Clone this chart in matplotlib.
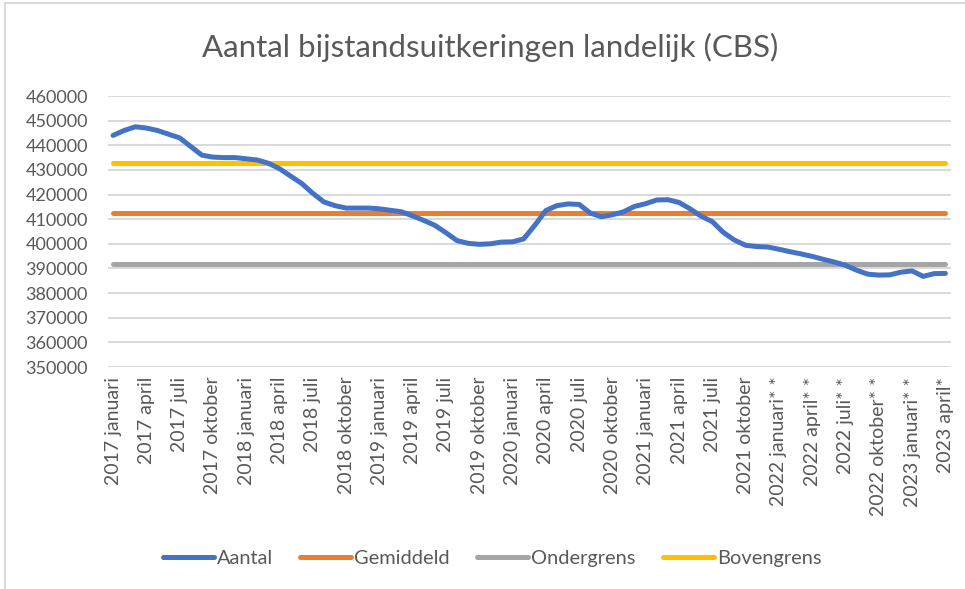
import matplotlib.pyplot as plt
from matplotlib.lines import Line2D

# maanden 2017 januari t/m 2023 april
maanden = ["januari", "februari", "maart", "april", "mei", "juni", "juli",
           "augustus", "september", "oktober", "november", "december"]
labels = []
for jaar in range(2017, 2024):
    for m in maanden:
        labels.append(f"{jaar} {m}")
labels = labels[:76]
# voorlopige cijfers
for i in range(60, 75):
    labels[i] += "* *"
labels[75] += "*"

aantal = [444000, 446000, 447500, 447000, 446000, 444500, 443000, 439500,
          436000, 435200, 435000, 435000, 434500, 434000, 432700, 430500,
          427500, 424500, 420500, 417000, 415500, 414500, 414500, 414500,
          414200, 413600, 413000, 411300, 409500, 407500, 404500, 401300,
          400200, 399800, 400000, 400700, 400800, 402000, 407500, 413500,
          415500, 416200, 416000, 412500, 411000, 411800, 413000, 415200,
          416300, 417800, 417900, 416800, 414200, 411200, 409000, 404600,
          401500, 399400, 398900, 398700, 397800, 396800, 395900, 394900,
          393700, 392600, 391300, 389300, 387700, 387300, 387400, 388500,
          389000, 386800, 387900, 388000]
gemiddeld = [412500] * 76
ondergrens = [392000] * 76
bovengrens = [433000] * 76

plt.rcParams['font.family'] = ['Lato', 'DejaVu Sans']
tekst = "#595959"

fig = plt.figure(figsize=(9.65, 5.89), dpi=100)
ax = fig.add_axes([0.1114, 0.3769, 0.874, 0.4601])

x = list(range(len(aantal)))
ax.plot(x, aantal, color="#4472C4", lw=3.6, label="Aantal", solid_capstyle="round", zorder=5)
ax.plot(x, gemiddeld, color="#ED7D31", lw=3.6, label="Gemiddeld", solid_capstyle="round", zorder=4)
ax.plot(x, ondergrens, color="#A5A5A5", lw=3.6, label="Ondergrens", solid_capstyle="round", zorder=4)
ax.plot(x, bovengrens, color="#FFC000", lw=3.6, label="Bovengrens", solid_capstyle="round", zorder=4)

ax.set_xlim(-0.5, 75.5)
ax.set_ylim(350000, 460000)
ax.set_yticks(range(350000, 460001, 10000))
ax.set_yticklabels([str(v) for v in range(350000, 460001, 10000)])
ax.set_xticks(x[::3])
ax.set_xticklabels(labels[::3], rotation=90)
ax.tick_params(axis="both", length=0, colors=tekst, labelsize=13)
ax.tick_params(axis="x", pad=7, labelsize=14)
ax.tick_params(axis="y", pad=14)
ax.grid(axis="y", color="#D9D9D9", lw=1.4, zorder=0)
for s in ax.spines.values():
    s.set_visible(False)

fig.text(0.508, 0.92, "Aantal bijstandsuitkeringen landelijk (CBS)",
         ha="center", va="center", fontsize=22.5, color=tekst)

fig.legend(loc="center", bbox_to_anchor=(0.51, 0.052), ncol=4, frameon=False,
           fontsize=14.4, labelcolor=tekst, handlelength=2.55, handletextpad=0.15,
           columnspacing=1.37)

# rand van de grafiek
fig.add_artist(Line2D([0.005, 0.005], [0, 0.995], color="#D9D9D9", lw=1.5))
fig.add_artist(Line2D([0.005, 1], [0.995, 0.995], color="#D9D9D9", lw=1.5))

fig.savefig("out.png", dpi=100)
